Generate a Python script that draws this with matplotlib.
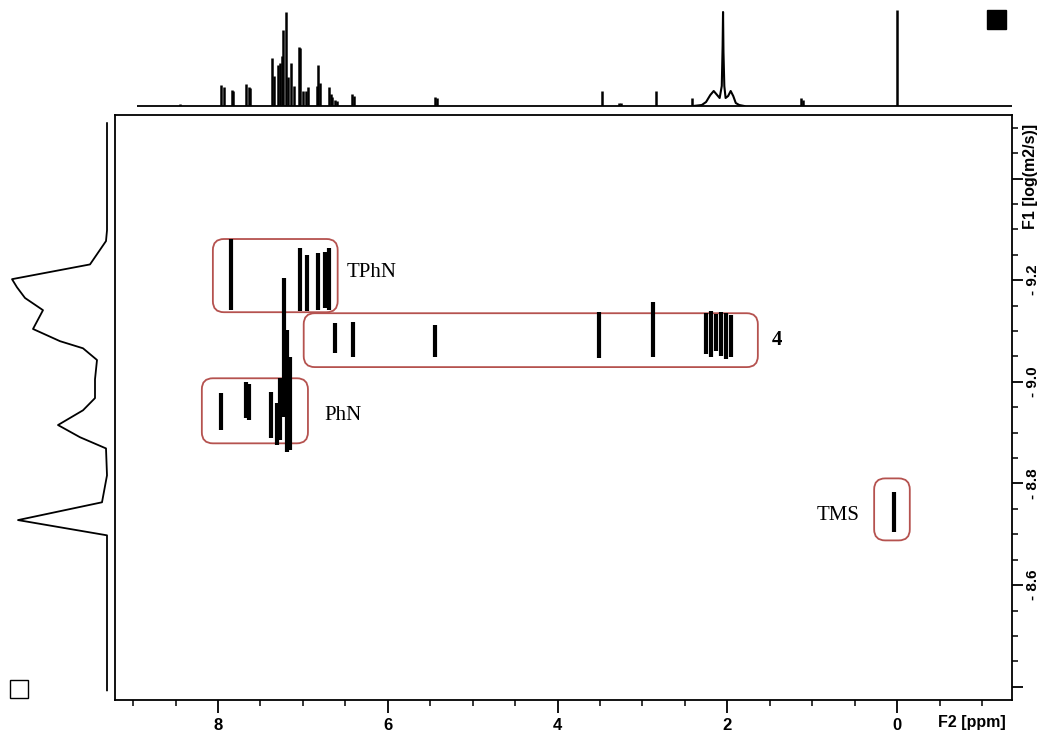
import numpy as np
import matplotlib
matplotlib.use('Agg')
import matplotlib.pyplot as plt
from matplotlib.patches import FancyBboxPatch, Rectangle

# 1H spectrum on top: peak positions (ppm) and heights
h1_ppm = [8.45, 7.96, 7.93, 7.84, 7.82, 7.67, 7.64, 7.62,
          7.36, 7.34, 7.29, 7.27, 7.25, 7.23, 7.20, 7.18, 7.14, 7.11,
          7.05, 7.03, 7.00, 6.96, 6.94, 6.83, 6.82, 6.80,
          6.69, 6.67, 6.66, 6.62, 6.60, 6.42, 6.40, 5.44, 5.42,
          3.48, 3.27, 3.25, 2.84, 2.42, 1.13, 1.11, 0.0]
h1_int = [2, 21, 19, 16, 15, 22, 19, 18,
          48, 30, 41, 43, 50, 76, 94, 29, 43, 20,
          59, 58, 15, 15, 19, 20, 41, 23,
          19, 12, 9, 6, 5, 12, 10, 9, 8,
          15, 3, 3, 15, 8, 8, 6, 96]
# broad solvent region around 2 ppm
hump_ppm = [2.40, 2.30, 2.25, 2.20, 2.16, 2.12, 2.09, 2.065, 2.055, 2.05,
            2.045, 2.035, 2.02, 1.99, 1.96, 1.93, 1.90, 1.86, 1.80]
hump_int = [0, 1, 4, 11, 15, 11, 8, 20, 60, 94, 54, 20, 8, 10, 15, 10, 3, 1, 0]

# DOSY cross peaks: shift (ppm), log D top / bottom of each streak
spot_ppm = [7.85, 7.03, 6.95, 6.82, 6.74, 6.69,
            7.22, 7.19,
            7.96, 7.67, 7.635, 7.38, 7.30, 7.27, 7.15,
            6.62, 6.41, 5.44, 3.51, 2.88,
            2.25, 2.19, 2.13, 2.075, 2.02, 1.96,
            0.04]
spot_top = [-9.281, -9.263, -9.249, -9.253, -9.255, -9.263,
            -9.204, -9.102,
            -8.978, -8.999, -8.995, -8.980, -8.958, -9.007, -9.048,
            -9.115, -9.117, -9.111, -9.137, -9.157,
            -9.135, -9.140, -9.133, -9.137, -9.135, -9.132,
            -8.783]
spot_bot = [-9.141, -9.139, -9.139, -9.141, -9.145, -9.141,
            -8.930, -8.861,
            -8.905, -8.928, -8.924, -8.889, -8.875, -8.885, -8.865,
            -9.056, -9.048, -9.048, -9.046, -9.048,
            -9.055, -9.048, -9.060, -9.050, -9.044, -9.048,
            -8.704]

# diffusion projection on the left
proj_logd = [-9.509, -9.298, -9.277, -9.231, -9.202, -9.186, -9.165, -9.141,
             -9.104, -9.080, -9.066, -9.043, -9.005, -8.968, -8.944, -8.915,
             -8.891, -8.869, -8.816, -8.763, -8.728, -8.698, -8.393]
proj_int = [0, 0, 1, 17, 95, 90, 82, 64,
            74, 47, 24, 10, 12, 12, 24, 49,
            27, 1, 0, 5, 89, 0, 0]

# boxed groups and their labels
box_names = ['TPhN', '4', 'PhN', 'TMS']
box_ppm = [(8.06, 6.59), (6.99, 1.64), (8.19, 6.94), (0.27, -0.15)]
box_logd = [(-9.281, -9.137), (-9.135, -9.029), (-9.007, -8.879), (-8.810, -8.688)]
label_pos = [(6.19, -9.216), (1.42, -9.082), (6.53, -8.934), (0.70, -8.737)]

W, H = 1047, 735
xlim = (9.213, -1.354)
ylim = (-8.374, -9.525)

fig = plt.figure(figsize=(W / 100, H / 100), dpi=100)
ax = fig.add_axes([115 / W, 35 / H, 897 / W, 585 / H])
top = fig.add_axes([115 / W, (H - 106) / H, 897 / W, 96 / H])
left = fig.add_axes([0, 35 / H, 110 / W, 585 / H])

# main DOSY panel
ax.vlines(spot_ppm, spot_top, spot_bot, color='black', lw=3.0)
ax.set_xlim(xlim)
ax.set_ylim(ylim)
for s in ax.spines.values():
    s.set_linewidth(1.3)
ax.yaxis.tick_right()
ax.set_xticks([8, 6, 4, 2, 0])
ax.set_xticks(np.arange(-1.0, 9.01, 0.5), minor=True)
ax.set_yticks([-9.4, -9.2, -9.0, -8.8, -8.6, -8.4])
ax.set_yticklabels(['', '- 9.2', '- 9.0', '- 8.8', '- 8.6', ''])
ax.set_yticks(np.arange(-9.5, -8.37, 0.05), minor=True)
ax.tick_params(axis='x', which='major', direction='out', length=9, width=1.3, pad=4,
               labelsize=12)
ax.tick_params(axis='x', which='minor', direction='out', length=4.5, width=1.1)
ax.tick_params(axis='y', which='major', direction='out', length=8, width=1.3, pad=2,
               labelsize=11, labelrotation=90)
ax.tick_params(axis='y', which='minor', direction='out', length=4.5, width=1.1)
for t in ax.get_xticklabels() + ax.get_yticklabels():
    t.set_fontfamily('Liberation Sans')
    t.set_fontweight('bold')
for t in ax.get_yticklabels():
    t.set_va('center')

to_ax = ax.transData + ax.transAxes.inverted()
for name, (x0, x1), (y0, y1), (lx, ly) in zip(box_names, box_ppm, box_logd, label_pos):
    (ax0, ay0), (ax1, ay1) = to_ax.transform([(x0, y0), (x1, y1)])
    fx0, fx1 = sorted([ax0, ax1])
    fy0, fy1 = sorted([ay0, ay1])
    box = FancyBboxPatch((fx0, fy0), fx1 - fx0, fy1 - fy0,
                         boxstyle='round,pad=0,rounding_size=%.4f' % (11 / 897),
                         mutation_aspect=897 / 585, transform=ax.transAxes,
                         fill=False, ec='#b5524f', lw=1.3)
    ax.add_patch(box)
    ax.text(lx, ly, name, ha='center', va='center', fontsize=15,
            family='Liberation Serif', fontweight='bold' if name == '4' else 'normal')

# 1D proton spectrum on top
top.vlines(h1_ppm, 0, h1_int, color='black', lw=1.8)
top.plot(hump_ppm, hump_int, color='black', lw=1.5)
top.hlines(0, 8.95, xlim[1], color='black', lw=1.3, clip_on=False)
top.set_xlim(xlim)
top.set_ylim(0, 96)
top.axis('off')

# diffusion projection
left.plot(proj_int, proj_logd, color='black', lw=1.3)
left.set_xlim(107, -3)
left.set_ylim(ylim)
left.axis('off')

fig.text(1030 / W, 1 - 176 / H, 'F1 [log(m2/s)]', rotation=90, ha='center', va='center',
         fontsize=11.5, fontweight='bold', family='Liberation Sans')
fig.text(972 / W, 1 - 722 / H, 'F2 [ppm]', ha='center', va='center',
         fontsize=11.5, fontweight='bold', family='Liberation Sans')

fig.patches.append(Rectangle((987 / W, 1 - 29 / H), 19 / W, 19 / H,
                             transform=fig.transFigure, facecolor='black', edgecolor='black'))
fig.patches.append(Rectangle((10 / W, 1 - 698 / H), 18 / W, 18 / H,
                             transform=fig.transFigure, facecolor='none', edgecolor='black',
                             lw=1.0))

fig.savefig('out.png', dpi=100)
